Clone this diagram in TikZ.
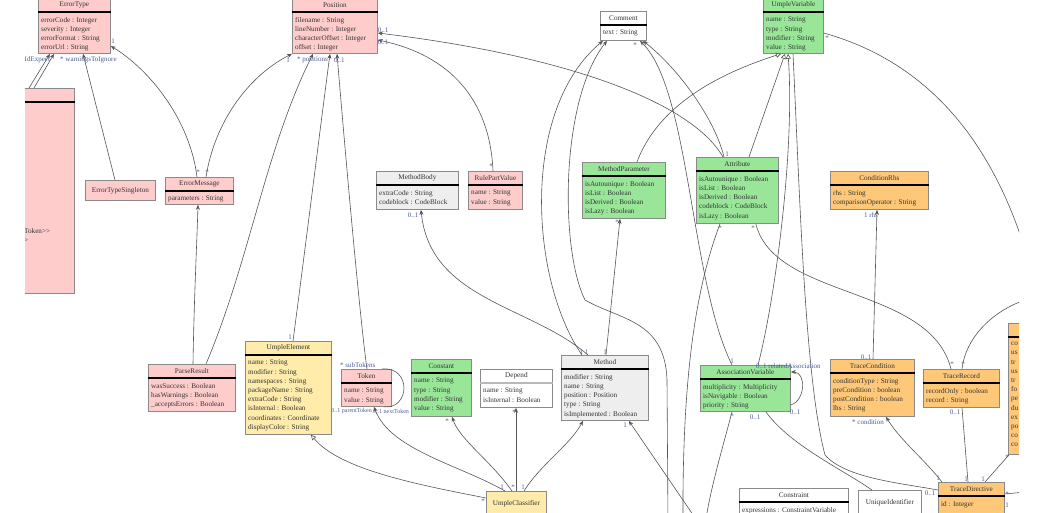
\documentclass[tikz,border=0pt]{standalone}
\usepackage{fontspec}
\setmainfont{Liberation Serif}
\usetikzlibrary{arrows.meta,calc}
\definecolor{pinkc}{HTML}{FFCCCC}
\definecolor{greenc}{HTML}{99E699}
\definecolor{orangec}{HTML}{FFC878}
\definecolor{yellowc}{HTML}{FFEBAA}
\definecolor{greyc}{HTML}{EEEEEE}
\definecolor{edgegrey}{HTML}{555555}
\definecolor{boxgrey}{HTML}{8A8A8A}
\definecolor{multblue}{HTML}{4B5A96}
\definecolor{inkc}{HTML}{333333}
\newcommand{\umlsize}{\fontsize{7.2}{9.2}\selectfont}
\tikzset{
  classbox/.style={rectangle,draw=boxgrey,line width=0.8pt,inner sep=0pt,font=\umlsize,text=inkc},
  classtitle/.style={inner sep=0pt,font=\umlsize,text=inkc},
  classattr/.style={anchor=north west,align=left,inner xsep=3pt,inner ysep=5pt,font=\umlsize,text=inkc},
  classsep/.style={line width=1.2pt,black},
  assoc/.style={draw=edgegrey,line width=0.6pt},
  arrow/.style={assoc,-{Stealth[length=5pt,width=4pt]}},
  isa/.style={assoc,-{Triangle[open,length=5pt,width=5pt]}},
  mult/.style={font=\fontsize{7}{8}\selectfont,text=multblue,inner sep=0pt}
}
% id, fill, x, y (top), width, height, title, attributes
\newcommand{\umlclass}[8]{%
  \node[classbox,fill=#2,minimum width=#5,minimum height=#6,anchor=north west] (#1) at (#3,#4) {};
  \node[classtitle] (#1-t) at ([yshift=-7pt]#1.north) {#7};
  \draw[classsep] ([yshift=-14pt]#1.north west) -- ([yshift=-14pt]#1.north east);
  \node[classattr] (#1-a) at ([yshift=-14pt]#1.north west) {#8};
}

\begin{document}
\begin{tikzpicture}[x=1pt,y=-1pt]
  \useasboundingbox (0,0) rectangle (1049,512);
  \begin{scope}
    \clip (25,0) rectangle (1019,512);

    % classes
    \umlclass{leftbox}{pinkc}{-20}{88}{94}{205}{}{}
    \node[classattr,anchor=west,inner sep=0pt] (leftbox-x1) at (24,231) {Token>{}>};
    \node[classattr,anchor=west,inner sep=0pt] (leftbox-x2) at (24,240) {>};
    \umlclass{errtype}{pinkc}{38}{-2}{72}{55}{ErrorType}{errorCode : Integer\\severity : Integer\\errorFormat : String\\errorUrl : String}
    \umlclass{position}{pinkc}{292}{-2}{85}{55}{Position}{filename : String\\lineNumber : Integer\\characterOffset : Integer\\offset : Integer}
    \umlclass{umplevar}{greenc}{763}{-2}{60}{55}{UmpleVariable}{name : String\\type : String\\modifier : String\\value : String}
    \umlclass{comment}{white}{600}{11}{46}{29}{Comment}{text : String}
    \node[classbox,fill=pinkc,minimum width=70,minimum height=20,anchor=north west] (errsingle) at (85,180) {ErrorTypeSingleton};
    \umlclass{errmsg}{pinkc}{165}{177}{68}{27}{ErrorMessage}{parameters : String}
    \umlclass{methodbody}{greyc}{376}{171}{82}{38}{MethodBody}{extraCode : String\\codeblock : CodeBlock}
    \umlclass{rulepart}{pinkc}{468}{171}{54}{38}{RulePartValue}{name : String\\value : String}
    \umlclass{methodparam}{greenc}{582}{162}{83}{56}{MethodParameter}{isAutounique : Boolean\\isList : Boolean\\isDerived : Boolean\\isLazy : Boolean}
    \umlclass{attribute}{greenc}{696}{157}{82}{66}{Attribute}{isAutounique : Boolean\\isList : Boolean\\isDerived : Boolean\\codeblock : CodeBlock\\isLazy : Boolean}
    \umlclass{condrhs}{orangec}{830}{171}{98}{38}{ConditionRhs}{rhs : String\\comparisonOperator : String}
    \umlclass{parseresult}{pinkc}{148}{364}{87}{47}{ParseResult}{wasSuccess : Boolean\\hasWarnings : Boolean\\\_acceptsErrors : Boolean}
    \umlclass{umpleelem}{yellowc}{245}{341}{86}{93}{UmpleElement}{name : String\\modifier : String\\namespaces : String\\packageName : String\\extraCode : String\\isInternal : Boolean\\coordinates : Coordinate\\displayColor : String}
    \umlclass{token}{pinkc}{341}{369}{50}{37}{Token}{name : String\\value : String}
    \umlclass{constant}{greenc}{411}{359}{60}{57}{Constant}{name : String\\type : String\\modifier : String\\value : String}
    \umlclass{depend}{white}{480}{369}{72}{38}{Depend}{name : String\\isInternal : Boolean}
    \draw[line width=1.2pt,boxgrey!60] ([yshift=-14pt]depend.north west) -- ([yshift=-14pt]depend.north east);
    \umlclass{method}{greyc}{561}{355}{87}{65}{Method}{modifier : String\\name : String\\position : Position\\type : String\\isImplemented : Boolean}
    \node[classbox,fill=yellowc,minimum width=60,minimum height=24,anchor=north west] (classifier) at (486,491) {UmpleClassifier};
    \umlclass{assocvar}{greenc}{700}{365}{90}{46}{AssociationVariable}{multiplicity : Multiplicity\\isNavigable : Boolean\\priority : String}
    \umlclass{tracecond}{orangec}{830}{359}{84}{57}{TraceCondition}{conditionType : String\\preCondition : boolean\\postCondition : boolean\\lhs : String}
    \umlclass{tracerecord}{orangec}{923}{369}{76}{38}{TraceRecord}{recordOnly : boolean\\record : String}
    \umlclass{traceright}{orangec}{1008}{323}{100}{131}{}{co\\us\\tr\\us\\tr\\fo\\pe\\du\\ex\\po\\co\\co}
    \umlclass{tracedir}{orangec}{938}{482}{66}{40}{TraceDirective}{id : Integer}
    \umlclass{constraint}{white}{739}{488}{109}{40}{Constraint}{expressions : ConstraintVariable}
    \node[classbox,fill=white,minimum width=63,minimum height=24,anchor=north west] (uniqueid) at (858,490) {UniqueIdentifier};

    % free ends of edges leaving the picture
    \coordinate (offA) at (668,525);
    \coordinate (offB) at (683,525);
    \coordinate (offC) at (705,525);
    \coordinate (offD) at (700,525);
    \coordinate (offE) at (1025,300);
    \coordinate (offF) at (1022,240);
    \coordinate (offG) at (1025,492);

    % edges
    \draw[arrow] ([xshift=49]leftbox.north west) -- ([xshift=12]errtype.south west);
    \draw[arrow] ([xshift=54]leftbox.north west) -- ([xshift=16]errtype.south west);
    \draw[arrow] ([xshift=30]errsingle.north west) -- ([xshift=45]errtype.south west);
    \draw[arrow] ([xshift=32]errmsg.north west) .. controls (190,120) and (150,70) .. ([yshift=-48]errtype.north east);
    \draw[arrow] ([xshift=41]errmsg.north west) .. controls (215,120) and (250,75) .. (position.south west);
    \draw[arrow] ([xshift=45]parseresult.north west) .. controls (194,300) and (197,240) .. ([xshift=33]errmsg.south west);
    \draw[arrow] ([xshift=58]parseresult.north west) .. controls (250,260) and (265,150) .. ([xshift=21]position.south west);
    \draw[arrow] ([xshift=48]umpleelem.north west) .. controls (305,250) and (320,130) .. ([xshift=38]position.south west);
    \draw[arrow] ([xshift=26]token.north west) .. controls (360,320) and (345,150) .. ([xshift=45]position.south west);
    \draw[arrow] ([xshift=25]rulepart.north west) .. controls (490,100) and (450,55) .. ([yshift=-42]position.north east);
    \draw[arrow] ([xshift=27]attribute.north west) .. controls (690,100) and (560,55) .. ([yshift=-35]position.north east);
    \draw[arrow] ([xshift=21]method.north west) .. controls (530,280) and (520,110) .. ([xshift=3]comment.south west);
    \draw[arrow] (offA) -- (667,380) .. controls (665,320) and (620,320) .. (585,300) .. controls (560,250) and (560,100) .. ([xshift=7]comment.south west);
    \draw[arrow] ([xshift=28]attribute.north west) .. controls (715,120) and (680,70) .. ([xshift=43]comment.south west);
    \draw[arrow] ([xshift=32]assocvar.north west) .. controls (690,280) and (690,90) .. ([xshift=40]comment.south west);
    \draw[assoc] ([xshift=24]attribute.south west) .. controls (695,290) and (682,380) .. (offB);
    \draw[isa] ([xshift=55]methodparam.north west) .. controls (660,100) and (730,70) .. ([xshift=18]umplevar.south west);
    \draw[isa] ([xshift=53]attribute.north west) -- ([xshift=22]umplevar.south west);
    \draw[isa] ([xshift=58]assocvar.north west) .. controls (775,300) and (795,150) .. ([xshift=25]umplevar.south west);
    \draw[assoc] ([xshift=30]umplevar.south west) .. controls (800,200) and (805,380) .. (825,455) .. controls (845,478) and (900,483) .. ([yshift=-8]tracedir.north west);
    \draw[assoc] ([xshift=-25]assocvar.south east) .. controls (790,445) and (840,468) .. ([xshift=14]uniqueid.north west);
    \draw[assoc] ([xshift=32]assocvar.south west) .. controls (722,450) and (710,490) .. (offC);
    \draw[arrow] ([yshift=-40]assocvar.north east) .. controls (806,400) and (806,372) .. ([yshift=-7]assocvar.north east);
    \draw[arrow] (offD) -- ([xshift=-20]method.south east);
    \draw[arrow] ([xshift=45]method.north west) -- ([xshift=38]methodparam.south west);
    \draw[arrow] ([xshift=27]method.north west) .. controls (530,305) and (430,300) .. ([xshift=45]methodbody.south west);
    \draw[assoc] ([xshift=-23]attribute.south east) .. controls (775,300) and (930,285) .. ([xshift=28]tracerecord.north west);
    \draw[assoc] ([xshift=39]tracerecord.north west) .. controls (965,340) and (990,312) .. (offE);
    \draw[assoc] ([yshift=-35]umplevar.north east) .. controls (920,60) and (985,130) .. (offF);
    \draw[arrow] ([xshift=43]tracecond.north west) -- ([xshift=47]condrhs.south west);
    \draw[arrow] ([xshift=4]tracedir.north west) .. controls (925,460) and (900,440) .. ([xshift=56]tracecond.south west);
    \draw[assoc] ([xshift=30]tracedir.north west) -- ([xshift=39]tracerecord.south west);
    \draw[assoc] ([xshift=47]tracedir.north west) -- ([xshift=1]traceright.south west);
    \draw[assoc] ([yshift=-12]tracedir.north east) -- (offG);
    \draw[isa] ([yshift=-7]classifier.north west) .. controls (420,485) and (340,470) .. ([xshift=66]umpleelem.south west);
    \draw[arrow] ([xshift=19]classifier.north west) .. controls (460,465) and (390,450) .. ([xshift=33]token.south west);
    \draw[arrow] ([xshift=26]classifier.north west) .. controls (490,460) and (460,440) .. ([xshift=41]constant.south west);
    \draw[arrow] ([xshift=30]classifier.north west) -- ([xshift=36]depend.south west);
    \draw[arrow] ([xshift=38]classifier.north west) .. controls (540,465) and (570,445) .. ([xshift=22]method.south west);
    \draw[assoc] ([xshift=-10]token.north east) .. controls (412,366) and (410,410) .. ([xshift=-8]token.south east);

    % multiplicities and role names
    \node[mult,anchor=west] (mExpect) at (24.5,60) {IdExpect};
    \node[mult,anchor=west] (mIgnore) at (60,60) {* warningsToIgnore};
    \node[mult] (mErrType) at (113,41) {1};
    \node[mult] (mMsgA) at (198,172) {*};
    \node[mult] (mMsgB) at (207,172) {*};
    \node[mult] (mPosOne) at (288,60) {1};
    \node[mult,anchor=west] (mPositions) at (297,60) {* positions};
    \node[mult,anchor=west] (mPosOpt) at (334,60) {0..1};
    \node[mult] (mPosR1) at (383,30) {0..1};
    \node[mult] (mPosR2) at (383,42) {0..1};
    \node[mult] (mRule) at (491,166) {*};
    \node[mult] (mAttrTop) at (727,154) {1};
    \node[mult] (mComment) at (635,45) {*};
    \node[mult] (mMethA) at (584,352) {1 1};
    \node[mult] (mMethB) at (605,352) {1};
    \node[mult] (mParam) at (617,222) {*};
    \node[mult] (mBody) at (413,215) {0..1};
    \node[mult] (mElem) at (290,337) {1};
    \node[mult,anchor=west] (mSubTok) at (340,365) {* subTokens};
    \node[mult,anchor=east,font=\fontsize{6}{7}\selectfont] (mParentTok) at (372,411) {0..1 parentToken};
    \node[mult,anchor=west,font=\fontsize{6}{7}\selectfont] (mNextTok) at (373,411) {0..1 nextToken};
    \node[mult] (mConst) at (447,421) {*};
    \node[mult] (mDepend) at (514,412) {*};
    \node[mult] (mClsA) at (502,487) {1};
    \node[mult] (mClsB) at (513,487) {*};
    \node[mult] (mClsC) at (523,487) {1};
    \node[mult] (mClsL) at (483,501) {*};
    \node[mult] (mMethBot) at (625,425) {1};
    \node[mult] (mAssocTop) at (732,361) {1};
    \node[mult,anchor=west] (mRelated) at (756,366) {0..1 relatedAssociation};
    \node[mult] (mLoop) at (795,412) {0..1};
    \node[mult] (mAssocBot) at (755,417) {0..1};
    \node[mult] (mAssocStar) at (732,416) {*};
    \node[mult] (mAttrA) at (720,228) {*};
    \node[mult] (mAttrB) at (753,228) {*};
    \node[mult] (mVarRight) at (827,38) {*};
    \node[mult] (mRhs) at (871,215) {1 rhs};
    \node[mult] (mCondTop) at (866,357) {0..1};
    \node[mult] (mCond) at (868,422) {* condition};
    \node[mult] (mRecA) at (952,364) {*};
    \node[mult] (mRecB) at (963,364) {*};
    \node[mult] (mRecBot) at (955,412) {0..1};
    \node[mult] (mDirA) at (938,478) {1};
    \node[mult] (mDirB) at (966,479) {1};
    \node[mult] (mDirC) at (983,479) {1};
    \node[mult] (mRight) at (1007,457) {*};
    \node[mult] (mDirL) at (930,493) {0..1};
    \node[mult] (mDirR1) at (1007,494) {*};
    \node[mult] (mDirR2) at (1007,505) {1};
  \end{scope}
\end{tikzpicture}
\end{document}
